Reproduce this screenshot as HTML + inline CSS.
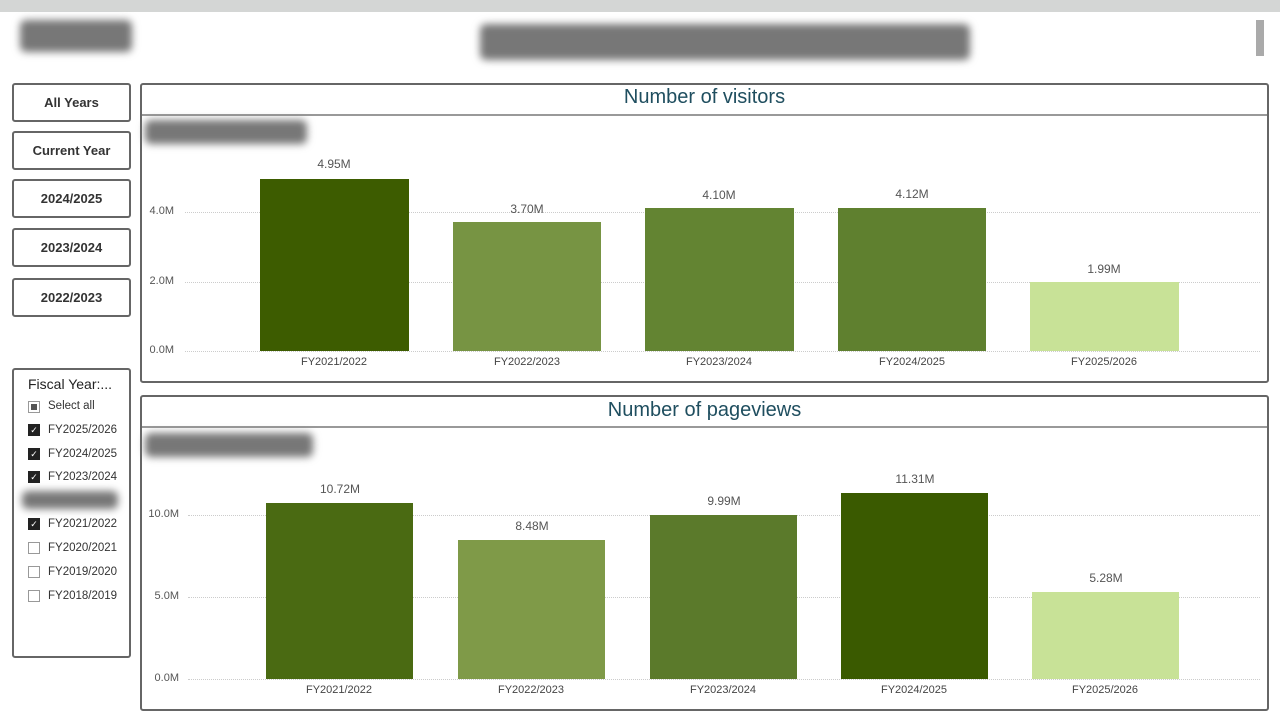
<!DOCTYPE html>
<html><head><meta charset="utf-8"><style>
body{margin:0;width:1280px;height:720px;background:#fff;position:relative;overflow:hidden;font-family:"Liberation Sans",sans-serif;}
.a{position:absolute}
.blur{position:absolute;background:#777;filter:blur(4px);border-radius:6px}
.btn{position:absolute;left:12px;width:115px;height:35px;border:2px solid #666;border-radius:3px;font-size:13px;font-weight:bold;color:#333;display:flex;align-items:center;justify-content:center}
.box{position:absolute;left:140px;width:1125px;border:2px solid #666;border-radius:3px}
.title{position:absolute;left:0;right:0;text-align:center;font-size:20px;color:#1f4e5f}
.grid{position:absolute;height:0;border-top:1px dotted #ccc}
.yl{position:absolute;font-size:11px;color:#555;text-align:right;width:40px}
.bar{position:absolute}
.vl{position:absolute;font-size:12px;color:#555;text-align:center;width:100px}
.xl{position:absolute;font-size:11px;color:#444;text-align:center;width:120px}
.it{position:absolute;left:28px;font-size:11.5px;color:#333}
.cb{position:absolute;left:-0px;width:10px;height:10px;border:1px solid #999}
.cbk{background:#222;border-color:#222;color:#fff;font-size:9px;line-height:10px;text-align:center}
</style></head><body>
<div class="a" style="left:0;top:0;width:1280px;height:12px;background:#d4d6d5"></div>
<div class="blur" style="left:20px;top:20px;width:112px;height:32px"></div>
<div class="blur" style="left:480px;top:24px;width:490px;height:36px"></div>
<div class="a" style="left:1256px;top:20px;width:8px;height:36px;background:#aaa"></div>

<div class="btn" style="top:83px">All Years</div>
<div class="btn" style="top:131px">Current Year</div>
<div class="btn" style="top:179px">2024/2025</div>
<div class="btn" style="top:228px">2023/2024</div>
<div class="btn" style="top:278px">2022/2023</div>

<div class="a" style="left:12px;top:368px;width:115px;height:286px;border:2px solid #666;border-radius:3px">
<div class="a" style="left:14px;top:6px;font-size:14px;color:#222">Fiscal Year:...</div>
<div class="a" style="left:14px;top:30px;width:110px;height:230px">
 <div class="a" style="left:0;top:0"><div class="cb" style="top:1px;background:#fff"><div style="margin:2px;width:6px;height:6px;background:#555"></div></div><span class="it" style="left:20px;top:0;white-space:nowrap">Select all</span></div>
 <div class="a" style="left:0;top:24px"><div class="cb cbk">✓</div><span class="it" style="left:20px;top:0;white-space:nowrap">FY2025/2026</span></div>
 <div class="a" style="left:0;top:48px"><div class="cb cbk">✓</div><span class="it" style="left:20px;top:0;white-space:nowrap">FY2024/2025</span></div>
 <div class="a" style="left:0;top:71px"><div class="cb cbk">✓</div><span class="it" style="left:20px;top:0;white-space:nowrap">FY2023/2024</span></div>
 <div class="blur" style="left:-6px;top:91px;width:96px;height:18px"></div>
 <div class="a" style="left:0;top:118px"><div class="cb cbk">✓</div><span class="it" style="left:20px;top:0;white-space:nowrap">FY2021/2022</span></div>
 <div class="a" style="left:0;top:142px"><div class="cb"></div><span class="it" style="left:20px;top:0;white-space:nowrap">FY2020/2021</span></div>
 <div class="a" style="left:0;top:166px"><div class="cb"></div><span class="it" style="left:20px;top:0;white-space:nowrap">FY2019/2020</span></div>
 <div class="a" style="left:0;top:190px"><div class="cb"></div><span class="it" style="left:20px;top:0;white-space:nowrap">FY2018/2019</span></div>
</div></div>

<!-- Chart 1 -->
<div class="box" style="top:83px;height:296px"></div>
<div class="title" style="top:86px;left:140px;width:1129px">Number of visitors</div>
<div class="a" style="left:142px;top:114px;width:1125px;height:2px;background:#999"></div>
<div class="blur" style="left:145px;top:120px;width:162px;height:24px"></div>
<div class="grid" style="left:185px;width:1075px;top:212px"></div>
<div class="grid" style="left:185px;width:1075px;top:282px"></div>
<div class="grid" style="left:185px;width:1075px;top:351px"></div>
<div class="yl" style="left:134px;top:205px">4.0M</div>
<div class="yl" style="left:134px;top:275px">2.0M</div>
<div class="yl" style="left:134px;top:344px">0.0M</div>
<div class="bar" style="left:260px;width:149px;top:179px;height:172px;background:#3d5c00"></div>
<div class="bar" style="left:453px;width:148px;top:222px;height:129px;background:#779443"></div>
<div class="bar" style="left:645px;width:149px;top:208px;height:143px;background:#638432"></div>
<div class="bar" style="left:838px;width:148px;top:208px;height:143px;background:#5f802f"></div>
<div class="bar" style="left:1030px;width:149px;top:282px;height:69px;background:#c8e297"></div>
<div class="vl" style="left:284px;top:157px">4.95M</div>
<div class="vl" style="left:477px;top:202px">3.70M</div>
<div class="vl" style="left:669px;top:188px">4.10M</div>
<div class="vl" style="left:862px;top:187px">4.12M</div>
<div class="vl" style="left:1054px;top:262px">1.99M</div>
<div class="xl" style="left:274px;top:356px">FY2021/2022</div>
<div class="xl" style="left:467px;top:356px">FY2022/2023</div>
<div class="xl" style="left:659px;top:356px">FY2023/2024</div>
<div class="xl" style="left:852px;top:356px">FY2024/2025</div>
<div class="xl" style="left:1044px;top:356px">FY2025/2026</div>

<!-- Chart 2 -->
<div class="box" style="top:395px;height:312px"></div>
<div class="title" style="top:399px;left:140px;width:1129px">Number of pageviews</div>
<div class="a" style="left:142px;top:426px;width:1125px;height:2px;background:#999"></div>
<div class="blur" style="left:145px;top:433px;width:168px;height:24px"></div>
<div class="grid" style="left:188px;width:1072px;top:515px"></div>
<div class="grid" style="left:188px;width:1072px;top:597px"></div>
<div class="grid" style="left:188px;width:1072px;top:679px"></div>
<div class="yl" style="left:139px;top:508px">10.0M</div>
<div class="yl" style="left:139px;top:590px">5.0M</div>
<div class="yl" style="left:139px;top:672px">0.0M</div>
<div class="bar" style="left:266px;width:147px;top:503px;height:176px;background:#4a6a12"></div>
<div class="bar" style="left:458px;width:147px;top:540px;height:139px;background:#7f9a48"></div>
<div class="bar" style="left:650px;width:147px;top:515px;height:164px;background:#5b7a2b"></div>
<div class="bar" style="left:841px;width:147px;top:493px;height:186px;background:#3a5a00"></div>
<div class="bar" style="left:1032px;width:147px;top:592px;height:87px;background:#c8e297"></div>
<div class="vl" style="left:290px;top:482px">10.72M</div>
<div class="vl" style="left:482px;top:519px">8.48M</div>
<div class="vl" style="left:674px;top:494px">9.99M</div>
<div class="vl" style="left:865px;top:472px">11.31M</div>
<div class="vl" style="left:1056px;top:571px">5.28M</div>
<div class="xl" style="left:279px;top:684px">FY2021/2022</div>
<div class="xl" style="left:471px;top:684px">FY2022/2023</div>
<div class="xl" style="left:663px;top:684px">FY2023/2024</div>
<div class="xl" style="left:854px;top:684px">FY2024/2025</div>
<div class="xl" style="left:1045px;top:684px">FY2025/2026</div>
</body></html>
